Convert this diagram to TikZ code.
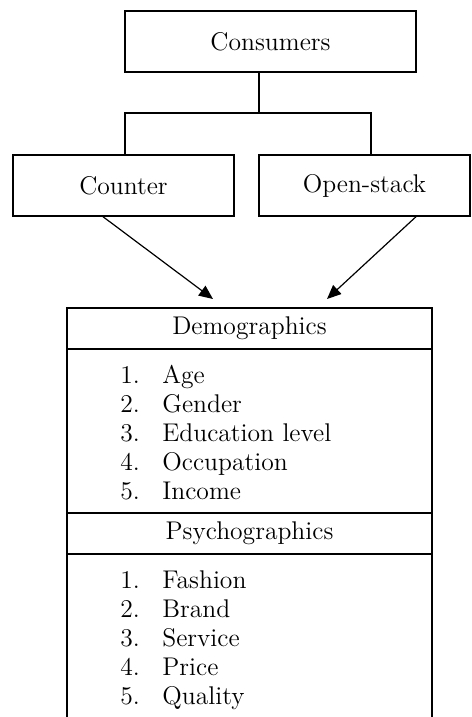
\documentclass[tikz,border=0pt]{standalone}
\usetikzlibrary{arrows.meta,positioning}

\begin{document}
\begin{tikzpicture}[x=0.5pt,y=-0.5pt,>={Triangle[length=7pt,width=6pt]},
  txt/.style={font=\fontsize{12.8}{14.4}\selectfont},
  box/.style={draw,line width=0.7pt,inner sep=0pt,minimum height=30.5pt,txt},
  cell/.style={draw,line width=1pt,inner sep=0pt,outer sep=0pt,minimum width=182.5pt,txt},
  entry/.style={anchor=base west,inner sep=0pt,txt}]
\useasboundingbox (0,0) rectangle (471,717);

% consumers and the two kinds of store
\node[box,minimum width=145.5pt] (consumers) at (270.5,41.5) {Consumers};
\node[box,minimum width=110.5pt] (counter) at (123.5,185.5) {Counter};
\node[box,minimum width=105.5pt] (openstack) at (364.5,185.5) {Open-stack};

\coordinate (fork) at (259,113);
\coordinate (forkL) at (125,113);
\coordinate (forkR) at (371,113);
\draw[line width=0.7pt] (consumers.south -| fork) -- (fork);
\draw[line width=0.7pt] (counter.north -| forkL) -- (forkL) -- (forkR) -- (openstack.north -| forkR);

% table
\node[cell,minimum height=20.5pt] (demohead) at (249.5,328.5) {Demographics};
\node[cell,minimum height=82pt,below=0pt of demohead] (demolist) {};
\node[cell,minimum height=20.5pt,below=0pt of demolist] (psychhead) {Psychographics};
\coordinate (bottom) at (0,717);
\draw[line width=1pt] (psychhead.south west) -- (psychhead.south west |- bottom);
\draw[line width=1pt] (psychhead.south east) -- (psychhead.south east |- bottom);

\coordinate (tipL) at (213,299);
\coordinate (tipR) at (327,299);
\draw[->,line width=0.6pt] ([xshift=-10.25pt]counter.south) -- (tipL);
\draw[->,line width=0.6pt] ([xshift=25.75pt]openstack.south) -- (tipR);

\node[entry] (d1) at (120,383) {\makebox[21pt][l]{1.}Age};
\node[entry] (d2) at (120,412) {\makebox[21pt][l]{2.}Gender};
\node[entry] (d3) at (120,441) {\makebox[21pt][l]{3.}Education level};
\node[entry] (d4) at (120,470) {\makebox[21pt][l]{4.}Occupation};
\node[entry] (d5) at (120,499) {\makebox[21pt][l]{5.}Income};

\node[entry] (p1) at (120,588) {\makebox[21pt][l]{1.}Fashion};
\node[entry] (p2) at (120,617) {\makebox[21pt][l]{2.}Brand};
\node[entry] (p3) at (120,646) {\makebox[21pt][l]{3.}Service};
\node[entry] (p4) at (120,675) {\makebox[21pt][l]{4.}Price};
\node[entry] (p5) at (120,704) {\makebox[21pt][l]{5.}Quality};
\end{tikzpicture}
\end{document}
